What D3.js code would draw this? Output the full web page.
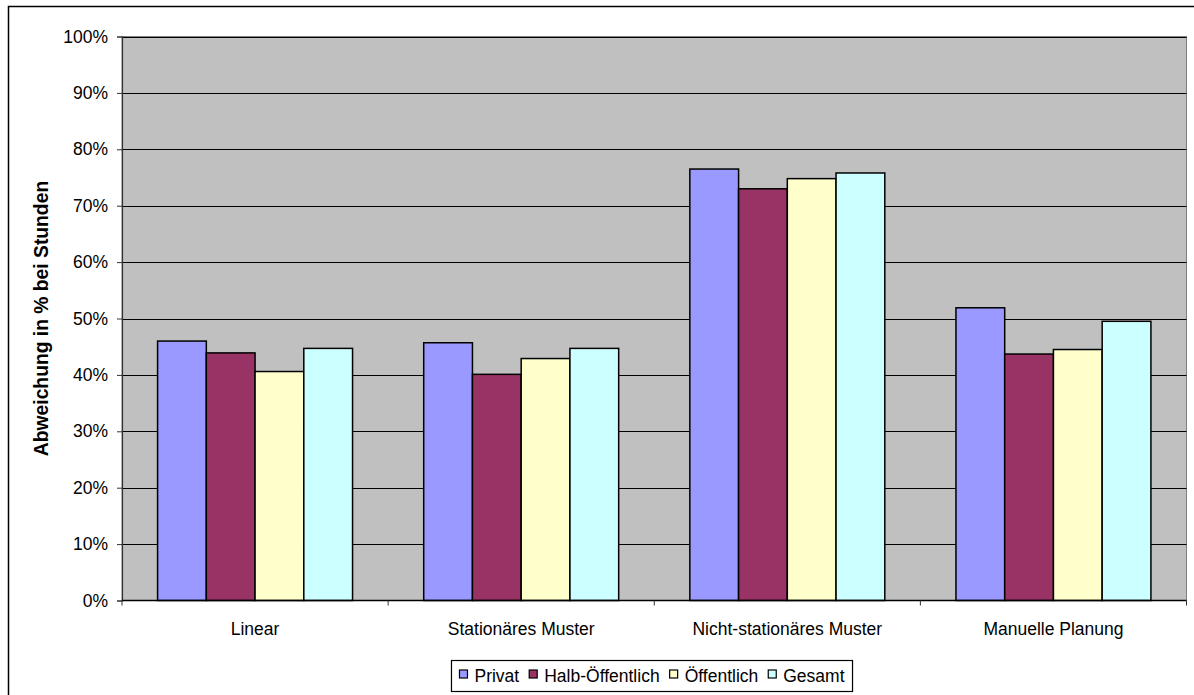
<!DOCTYPE html>
<html>
<head>
<meta charset="utf-8">
<script src="https://cdn.jsdelivr.net/npm/d3@7"></script>
<style>
  html, body { margin: 0; padding: 0; background: #fff; }
  svg { display: block; font-family: "Liberation Sans", Arial, sans-serif; }
</style>
</head>
<body>
<svg id="chart" width="1194" height="695"></svg>
<script>
// Categories (forecast methods) and series (building types)
const categories = ["Linear", "Stationäres Muster", "Nicht-stationäres Muster", "Manuelle Planung"];
const seriesNames = ["Privat", "Halb-Öffentlich", "Öffentlich", "Gesamt"];
const seriesColors = ["#9999FF", "#993366", "#FFFFCC", "#CCFFFF"];

// Deviation in percent per category, one array per series
const privat          = [46.0, 45.7, 76.5, 51.9];
const halbOeffentlich = [43.9, 40.1, 73.0, 43.7];
const oeffentlich     = [40.6, 42.9, 74.8, 44.5];
const gesamt          = [44.7, 44.7, 75.8, 49.5];

const yTicks = [0, 10, 20, 30, 40, 50, 60, 70, 80, 90, 100];
const yTitle = "Abweichung in % bei Stunden";

const seriesValues = [privat, halbOeffentlich, oeffentlich, gesamt];

const svg = d3.select("#chart");
const plot = { left: 122, top: 36.5, right: 1186.5, bottom: 600.5 };

// Outer chart frame (runs off the right and bottom edges)
svg.append("rect")
  .attr("x", 8.5).attr("y", 6.5)
  .attr("width", 1200).attr("height", 700)
  .attr("fill", "#fff").attr("stroke", "#000").attr("stroke-width", 1.5);

const x0 = d3.scaleBand().domain(categories).range([plot.left, plot.right]).paddingInner(0).paddingOuter(0);
const x1 = d3.scaleBand().domain(seriesNames).range([0, x0.bandwidth()]).paddingInner(0).paddingOuter(0.73);
const y = d3.scaleLinear().domain([0, 100]).range([plot.bottom, plot.top]);

// Plot area background
svg.append("rect")
  .attr("x", plot.left).attr("y", plot.top)
  .attr("width", plot.right - plot.left).attr("height", plot.bottom - plot.top)
  .attr("fill", "#C0C0C0").attr("stroke", "#808080").attr("stroke-width", 1);

// Horizontal gridlines
svg.append("g").selectAll("line")
  .data(yTicks.filter(t => t > 0))
  .join("line")
  .attr("x1", plot.left).attr("x2", plot.right)
  .attr("y1", d => Math.round(y(d)) + 0.5).attr("y2", d => Math.round(y(d)) + 0.5)
  .attr("stroke", "#000").attr("stroke-width", 1);

// Bars
const groups = svg.append("g").selectAll("g")
  .data(categories)
  .join("g")
  .attr("transform", c => `translate(${x0(c)},0)`);

groups.selectAll("rect")
  .data((c, ci) => seriesNames.map((s, si) => ({ s, si, v: seriesValues[si][ci] })))
  .join("rect")
  .attr("x", d => x1(d.s))
  .attr("y", d => y(d.v))
  .attr("width", x1.bandwidth())
  .attr("height", d => y(0) - y(d.v))
  .attr("fill", d => seriesColors[d.si])
  .attr("stroke", "#000").attr("stroke-width", 1.5);

// Y axis
const yAxis = d3.axisLeft(y).tickValues(yTicks).tickFormat(d => d + "%").tickSize(5).tickPadding(9);
const gy = svg.append("g").attr("transform", `translate(${plot.left},0)`).call(yAxis);
gy.select(".domain").attr("stroke", "#333").attr("stroke-width", 1.2);
gy.selectAll(".tick line").attr("stroke", "#333");
gy.selectAll(".tick text").attr("font-size", "17.5px").attr("fill", "#000")
  .attr("font-family", "'Liberation Sans', Arial, sans-serif");

// X axis: ticks at category boundaries
const gx = svg.append("g").attr("transform", `translate(0,${plot.bottom})`);
gx.append("line").attr("x1", plot.left).attr("x2", plot.right)
  .attr("y1", 0).attr("y2", 0).attr("stroke", "#000").attr("stroke-width", 1.5);
gx.selectAll("line.tk")
  .data(d3.range(categories.length + 1))
  .join("line").attr("class", "tk")
  .attr("x1", i => plot.left + i * x0.bandwidth()).attr("x2", i => plot.left + i * x0.bandwidth())
  .attr("y1", 0).attr("y2", 5).attr("stroke", "#333");
gx.selectAll("text")
  .data(categories)
  .join("text")
  .attr("x", c => x0(c) + x0.bandwidth() / 2)
  .attr("y", 34)
  .attr("text-anchor", "middle")
  .attr("font-size", "17.5px")
  .text(c => c);

// Y axis title
svg.append("text")
  .attr("transform", `translate(48,${(plot.top + plot.bottom) / 2}) rotate(-90)`)
  .attr("text-anchor", "middle")
  .attr("font-size", "19.3px").attr("font-weight", "bold")
  .text(yTitle);

// Legend
const legend = svg.append("g");
const items = legend.selectAll("g").data(seriesNames).join("g");
items.append("rect").attr("class", "mk")
  .attr("width", 8).attr("height", 8)
  .attr("fill", (d, i) => seriesColors[i]).attr("stroke", "#000").attr("stroke-width", 1.2);
items.append("text").attr("font-size", "17.5px").text(d => d);

let cursor = 0;
items.each(function () {
  const t = d3.select(this).select("text");
  const w = t.node().getComputedTextLength();
  d3.select(this).select("rect").attr("x", cursor).attr("y", -12);
  t.attr("x", cursor + 15).attr("y", 0);
  cursor += 15 + w + 10;
});
const legendWidth = cursor - 10;
const padX = 8;
const legendLeft = 652 - legendWidth / 2;
legend.attr("transform", `translate(${legendLeft},682)`);
legend.insert("rect", ":first-child")
  .attr("x", -padX).attr("y", -21.5)
  .attr("width", legendWidth + padX * 2).attr("height", 31)
  .attr("fill", "#fff").attr("stroke", "#000").attr("stroke-width", 1.2);
</script>
</body>
</html>
